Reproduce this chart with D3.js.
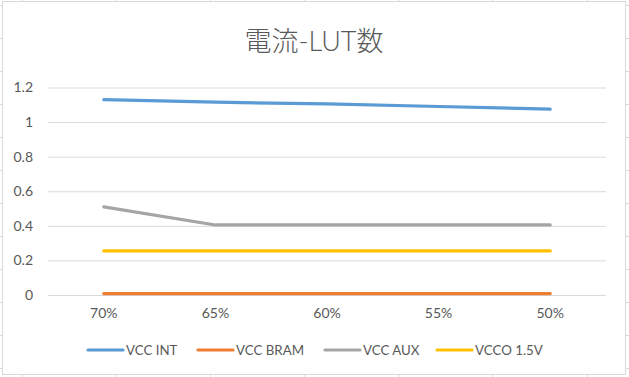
<!DOCTYPE html>
<html><head><meta charset="utf-8">
<script src="https://cdn.jsdelivr.net/npm/d3@7"></script>
<style>html,body{margin:0;padding:0;background:#fff;}svg{display:block;}</style>
</head><body>
<svg id="c" width="629" height="377"></svg>
<script>
const categories = ["70%", "65%", "60%", "55%", "50%"];
const seriesNames = ["VCC INT", "VCC BRAM", "VCC AUX", "VCCO 1.5V"];
const vccInt = [1.13, 1.115, 1.105, 1.09, 1.075];
const vccBram = [0.008, 0.008, 0.008, 0.008, 0.008];
const vccAux = [0.51, 0.405, 0.405, 0.405, 0.405];
const vcco15 = [0.255, 0.255, 0.255, 0.255, 0.255];
const yTicks = [0, 0.2, 0.4, 0.6, 0.8, 1, 1.2];
const colors = ["#5b9bd5", "#ed7d31", "#a5a5a5", "#ffc000"];
const title = "電流-LUT数";

const series = [vccInt, vccBram, vccAux, vcco15].map((v, i) => ({name: seriesNames[i], values: v, color: colors[i]}));

const svg = d3.select("#c");
const W = 629, H = 377;
const font = "Lato, 'Noto Sans CJK JP', sans-serif";

// spreadsheet background grid
const bg = svg.append("g");
d3.range(22, W, 94.1).forEach(x => bg.append("line").attr("x1", x + 0.5).attr("x2", x + 0.5).attr("y1", 0).attr("y2", H).attr("stroke", "#dadada"));
d3.range(5, H, 33).forEach(y => bg.append("line").attr("x1", 0).attr("x2", W).attr("y1", y + 0.5).attr("y2", y + 0.5).attr("stroke", "#dadada"));

// chart area
svg.append("rect").attr("x", 2.5).attr("y", 1.5).attr("width", 623).attr("height", 373)
  .attr("fill", "#fff").attr("stroke", "#d9d9d9").attr("stroke-width", 1);

const m = {left: 48, right: 606, top: 87.5, bottom: 295};
const x = d3.scaleBand().domain(categories).range([m.left, m.right]);
const y = d3.scaleLinear().domain([0, 1.2]).range([m.bottom, m.top]);

// title
svg.append("text").attr("x", 314).attr("y", 51).attr("text-anchor", "middle")
  .attr("font-family", font).attr("font-size", 27).attr("font-weight", 300).attr("fill", "#595959").text(title);

// gridlines
const yAxis = d3.axisLeft(y).tickValues(yTicks).tickSize(-(m.right - m.left)).tickPadding(15)
  .tickFormat(d => d3.format("")(d));
const gy = svg.append("g").attr("transform", `translate(${m.left},0)`).call(yAxis);
gy.select(".domain").remove();
gy.selectAll(".tick line").attr("stroke", "#d9d9d9").attr("stroke-width", 1);
gy.selectAll(".tick text").attr("font-family", font).attr("font-size", 14).attr("fill", "#595959");

const xAxis = d3.axisBottom(x).tickSize(0).tickPadding(13);
const gx = svg.append("g").attr("transform", `translate(0,${m.bottom})`).call(xAxis);
gx.select(".domain").remove();
gx.selectAll(".tick text").attr("font-family", font).attr("font-size", 14).attr("fill", "#595959");

// lines
const line = d3.line().x((d, i) => x(categories[i]) + x.bandwidth() / 2).y(d => y(d));
svg.append("g").selectAll("path").data(series).join("path")
  .attr("d", d => line(d.values)).attr("fill", "none").attr("stroke", d => d.color)
  .attr("stroke-width", 3.2).attr("stroke-linecap", "round").attr("stroke-linejoin", "round");

// legend
const legendX = [88, 198, 325, 437];
const lg = svg.append("g").selectAll("g").data(series).join("g")
  .attr("transform", (d, i) => `translate(${legendX[i]},350)`);
lg.append("line").attr("x1", 0).attr("x2", 35).attr("y1", 0).attr("y2", 0)
  .attr("stroke", d => d.color).attr("stroke-width", 3.2).attr("stroke-linecap", "round");
lg.append("text").attr("x", 38).attr("y", 0).attr("dy", "0.35em")
  .attr("font-family", font).attr("font-size", 13.3).attr("fill", "#595959").text(d => d.name);
</script>
</body></html>
